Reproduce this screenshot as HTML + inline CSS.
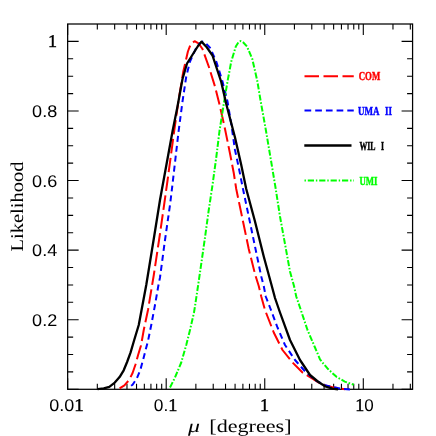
<!DOCTYPE html>
<html><head><meta charset="utf-8"><title>Likelihood</title>
<style>
html,body{margin:0;padding:0;background:#fff;}
svg{display:block;will-change:transform;}
text{font-family:"Liberation Serif",serif;text-rendering:geometricPrecision;}
.ss{font-family:"Liberation Sans",sans-serif;}
.sf{font-family:"Liberation Serif",serif;}
</style></head><body>
<svg width="436" height="436" viewBox="0 0 436 436">
<rect width="436" height="436" fill="#fff"/>
<rect x="67.65" y="24.00" width="344.93" height="365.30" fill="none" stroke="#000" stroke-width="1.25"/>
<path d="M67.65 389.30 V378.30 M67.65 24.00 V35.00 M97.32 389.30 V383.80 M97.32 24.00 V29.50 M114.67 389.30 V383.80 M114.67 24.00 V29.50 M126.98 389.30 V383.80 M126.98 24.00 V29.50 M136.53 389.30 V383.80 M136.53 24.00 V29.50 M144.34 389.30 V383.80 M144.34 24.00 V29.50 M150.93 389.30 V383.80 M150.93 24.00 V29.50 M156.65 389.30 V383.80 M156.65 24.00 V29.50 M161.69 389.30 V383.80 M161.69 24.00 V29.50 M166.20 389.30 V378.30 M166.20 24.00 V35.00 M195.87 389.30 V383.80 M195.87 24.00 V29.50 M213.22 389.30 V383.80 M213.22 24.00 V29.50 M225.53 389.30 V383.80 M225.53 24.00 V29.50 M235.08 389.30 V383.80 M235.08 24.00 V29.50 M242.89 389.30 V383.80 M242.89 24.00 V29.50 M249.48 389.30 V383.80 M249.48 24.00 V29.50 M255.20 389.30 V383.80 M255.20 24.00 V29.50 M260.24 389.30 V383.80 M260.24 24.00 V29.50 M264.75 389.30 V378.30 M264.75 24.00 V35.00 M294.42 389.30 V383.80 M294.42 24.00 V29.50 M311.77 389.30 V383.80 M311.77 24.00 V29.50 M324.08 389.30 V383.80 M324.08 24.00 V29.50 M333.63 389.30 V383.80 M333.63 24.00 V29.50 M341.44 389.30 V383.80 M341.44 24.00 V29.50 M348.03 389.30 V383.80 M348.03 24.00 V29.50 M353.75 389.30 V383.80 M353.75 24.00 V29.50 M358.79 389.30 V383.80 M358.79 24.00 V29.50 M363.30 389.30 V378.30 M363.30 24.00 V35.00 M392.97 389.30 V383.80 M392.97 24.00 V29.50 M410.32 389.30 V383.80 M410.32 24.00 V29.50 M67.65 389.30 H78.65 M412.58 389.30 H401.58 M67.65 371.91 H73.15 M412.58 371.91 H407.08 M67.65 354.51 H73.15 M412.58 354.51 H407.08 M67.65 337.12 H73.15 M412.58 337.12 H407.08 M67.65 319.72 H78.65 M412.58 319.72 H401.58 M67.65 302.32 H73.15 M412.58 302.32 H407.08 M67.65 284.93 H73.15 M412.58 284.93 H407.08 M67.65 267.53 H73.15 M412.58 267.53 H407.08 M67.65 250.14 H78.65 M412.58 250.14 H401.58 M67.65 232.75 H73.15 M412.58 232.75 H407.08 M67.65 215.35 H73.15 M412.58 215.35 H407.08 M67.65 197.95 H73.15 M412.58 197.95 H407.08 M67.65 180.56 H78.65 M412.58 180.56 H401.58 M67.65 163.16 H73.15 M412.58 163.16 H407.08 M67.65 145.77 H73.15 M412.58 145.77 H407.08 M67.65 128.38 H73.15 M412.58 128.38 H407.08 M67.65 110.98 H78.65 M412.58 110.98 H401.58 M67.65 93.58 H73.15 M412.58 93.58 H407.08 M67.65 76.19 H73.15 M412.58 76.19 H407.08 M67.65 58.79 H73.15 M412.58 58.79 H407.08 M67.65 41.40 H78.65 M412.58 41.40 H401.58" stroke="#000" stroke-width="1.1" fill="none"/>
<g fill="none" stroke-linejoin="round">
<path d="M119.60 388.40 L124.40 385.40 L129.20 379.90 L132.60 373.00 L135.40 364.80 L138.10 355.10 L141.00 345.50 L143.75 330.00 L148.00 310.00 L151.30 290.00 L153.80 275.00 L159.80 235.00 L164.80 200.00 L167.60 180.00 L172.30 145.00 L173.90 133.00 L178.75 99.00 L183.30 71.50 L187.90 51.50 L190.70 44.20 L194.60 41.20 L198.50 43.30 L202.50 49.00 L208.75 66.50 L215.00 86.50 L220.00 106.50 L225.00 129.00 L230.00 153.50 L233.75 173.00 L236.25 189.00 L242.50 219.00 L248.75 249.00 L255.00 274.00 L258.75 286.00 L261.25 296.50 L265.00 310.00 L273.75 332.50 L282.50 350.00 L292.50 362.50 L302.50 372.50 L312.50 378.75 L322.50 384.80 L332.50 387.20 L338.00 388.20 L345.00 389.20" stroke="#f00" stroke-width="2" stroke-dasharray="14.5 4.5" stroke-dashoffset="3"/>
<path d="M127.80 388.10 L132.60 384.70 L136.80 378.50 L140.20 370.30 L142.90 360.60 L145.70 349.60 L148.00 341.00 L151.25 325.00 L155.00 305.00 L158.25 286.25 L160.00 277.50 L165.00 240.00 L170.00 205.00 L171.25 195.00 L175.00 162.50 L178.50 132.00 L182.50 101.50 L186.25 76.50 L190.00 61.50 L196.25 47.75 L199.50 43.50 L202.50 41.50 L206.00 43.50 L210.00 47.75 L216.25 61.50 L222.50 81.50 L227.50 101.50 L231.25 124.00 L235.00 150.00 L238.75 167.50 L243.00 189.00 L248.75 216.50 L255.00 246.50 L261.25 276.50 L263.75 286.00 L265.75 296.50 L270.00 307.50 L277.50 327.50 L285.00 345.00 L295.00 360.00 L305.00 371.25 L315.00 380.00 L325.00 385.30 L335.00 387.40 L342.00 388.80 L350.00 389.50" stroke="#00f" stroke-width="2" stroke-dasharray="6 4" stroke-dashoffset="6"/>
<path d="M170.00 387.50 L175.00 377.50 L181.25 362.50 L186.25 345.00 L190.00 330.00 L194.00 312.50 L195.20 305.00 L200.00 272.50 L205.00 237.50 L208.75 210.00 L212.50 185.00 L216.25 157.50 L219.50 131.00 L223.75 104.00 L227.50 81.50 L231.25 61.50 L235.80 46.50 L238.30 42.50 L240.60 41.00 L243.30 42.50 L247.00 46.50 L252.30 59.00 L257.30 81.00 L260.90 102.50 L265.85 130.00 L270.90 160.00 L275.50 187.50 L280.00 216.50 L285.00 244.00 L290.00 271.50 L294.00 286.00 L296.25 296.50 L300.00 307.50 L307.50 330.00 L315.00 347.50 L320.00 359.30 L322.50 362.50 L328.30 369.30 L336.50 376.80 L344.80 381.60 L353.70 384.70" stroke="#0f0" stroke-width="2" stroke-dasharray="6 1.8 1.6 1.8"/>
<path d="M97.60 389.10 L103.80 388.40 L109.30 386.80 L114.80 382.60 L119.60 377.10 L123.70 370.30 L127.10 362.00 L130.60 352.40 L134.00 340.70 L138.75 325.00 L142.50 305.00 L146.25 285.00 L153.75 239.00 L160.00 200.00 L172.50 131.50 L177.50 106.50 L182.50 79.00 L187.00 63.50 L198.00 46.00 L201.50 41.60 L206.30 46.70 L212.50 55.50 L221.25 82.00 L226.25 104.00 L235.00 137.50 L241.25 165.00 L246.25 189.00 L255.00 221.50 L263.75 256.50 L271.25 284.00 L275.00 298.00 L280.00 312.50 L290.00 340.00 L300.00 360.00 L310.00 375.00 L317.50 381.25 L320.00 383.00 L325.50 386.50 L332.40 388.60 L338.00 389.30" stroke="#000" stroke-width="2.3"/>
</g>
<g fill="#000">
<text x="66.60" y="410.80" text-anchor="middle" font-size="17" textLength="34.5" lengthAdjust="spacingAndGlyphs" class="ss">0.0<tspan class="sf" font-size="18" stroke="#000" stroke-width="0.45">1</tspan></text>
<text x="165.60" y="410.80" text-anchor="middle" font-size="17" textLength="23.6" lengthAdjust="spacingAndGlyphs" class="ss">0.<tspan class="sf" font-size="18" stroke="#000" stroke-width="0.45">1</tspan></text>
<text x="264.60" y="410.80" text-anchor="middle" font-size="17" class="ss"><tspan class="sf" font-size="18" stroke="#000" stroke-width="0.45">1</tspan></text>
<text x="364.50" y="410.80" text-anchor="middle" font-size="17" textLength="18.5" lengthAdjust="spacingAndGlyphs" class="ss"><tspan class="sf" font-size="18" stroke="#000" stroke-width="0.45">1</tspan>0</text>
<text x="57.20" y="325.82" text-anchor="end" font-size="17" textLength="25.1" lengthAdjust="spacingAndGlyphs" class="ss">0.2</text>
<text x="57.20" y="256.24" text-anchor="end" font-size="17" textLength="25.1" lengthAdjust="spacingAndGlyphs" class="ss">0.4</text>
<text x="57.20" y="186.66" text-anchor="end" font-size="17" textLength="25.1" lengthAdjust="spacingAndGlyphs" class="ss">0.6</text>
<text x="57.20" y="117.08" text-anchor="end" font-size="17" textLength="25.1" lengthAdjust="spacingAndGlyphs" class="ss">0.8</text>
<text x="57.00" y="47.00" text-anchor="end" font-size="17" class="ss"><tspan class="sf" font-size="18" stroke="#000" stroke-width="0.45">1</tspan></text>
<text transform="translate(22.9 206.5) rotate(-90)" text-anchor="middle" font-size="18" textLength="90" lengthAdjust="spacingAndGlyphs">Likelihood</text>
<text x="188" y="432" font-size="18" font-style="italic" textLength="12" lengthAdjust="spacingAndGlyphs">μ</text>
<text x="209.3" y="432" font-size="18" textLength="82.3" lengthAdjust="spacingAndGlyphs">[degrees]</text>
</g>
<path d="M304.5 76.25 H353.75" stroke="#f00" stroke-width="2" stroke-dasharray="14.5 4.5" fill="none"/>
<path d="M304.5 110.5 H353.75" stroke="#00f" stroke-width="2.1" stroke-dasharray="6.7 4" fill="none"/>
<path d="M304.3 145.5 H351.5" stroke="#000" stroke-width="2.4" fill="none"/>
<path d="M304.5 180.5 H354" stroke="#0f0" stroke-width="2" stroke-dasharray="1.4 1.9 6.2 1.9" fill="none"/>
<text x="358.75" y="80.2" font-size="12.2" font-weight="bold" fill="#f00" stroke="#f00" stroke-width="0.45" textLength="21.5" lengthAdjust="spacingAndGlyphs">COM</text>
<text x="358" y="114.7" font-size="12.2" font-weight="bold" fill="#00f" stroke="#00f" stroke-width="0.45" textLength="21.5" lengthAdjust="spacingAndGlyphs">UMA</text>
<text x="385" y="114.7" font-size="12.2" font-weight="bold" fill="#00f" stroke="#00f" stroke-width="0.45" textLength="7" lengthAdjust="spacingAndGlyphs">II</text>
<text x="359.5" y="149.7" font-size="12.2" font-weight="bold" fill="#000" stroke="#000" stroke-width="0.45" textLength="16" lengthAdjust="spacingAndGlyphs">WIL</text>
<text x="381" y="149.7" font-size="12.2" font-weight="bold" fill="#000" stroke="#000" stroke-width="0.45" textLength="3" lengthAdjust="spacingAndGlyphs">I</text>
<text x="359.5" y="184.7" font-size="12.2" font-weight="bold" fill="#0f0" stroke="#0f0" stroke-width="0.45" textLength="18" lengthAdjust="spacingAndGlyphs">UMI</text>
</svg>
</body></html>
